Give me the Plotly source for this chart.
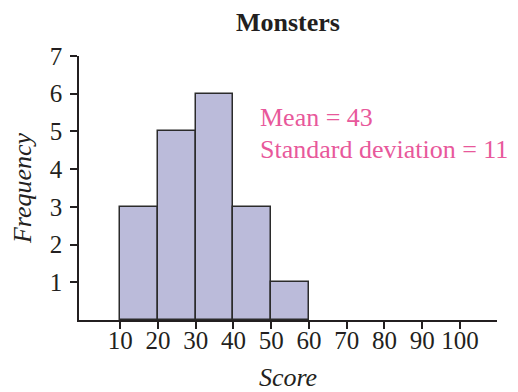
import plotly.graph_objects as go

# Histogram of monster scores
bin_left = [10, 20, 30, 40, 50]
bin_width = 10
frequency = [3, 5, 6, 3, 1]

x_ticks = [10, 20, 30, 40, 50, 60, 70, 80, 90, 100]
y_ticks = [1, 2, 3, 4, 5, 6, 7]

mean_score = 43
sd_score = 11

SERIF = "Liberation Serif, Times New Roman, serif"
PINK = "#E8589B"
INK = "#231F20"

centers = [b + bin_width / 2 for b in bin_left]

fig = go.Figure(
    go.Bar(
        x=centers,
        y=frequency,
        width=[bin_width] * len(frequency),
        marker=dict(color="#BBBBDA", line=dict(color="#2B2B2B", width=1.5)),
        hoverinfo="skip",
    )
)

axis_common = dict(
    showline=True,
    linecolor=INK,
    linewidth=1.5,
    ticks="outside",
    ticklen=7,
    tickwidth=1.5,
    tickcolor=INK,
    showgrid=False,
    zeroline=False,
    automargin=False,
    tickfont=dict(family=SERIF, size=25, color=INK),
)

fig.update_xaxes(
    range=[-0.9, 109.8],
    tickvals=x_ticks,
    ticktext=[str(v) for v in x_ticks],
    ticklabelstandoff=-10,
    title=dict(text="Score", font=dict(family=SERIF, size=26, color=INK, style="italic"), standoff=18),
    **axis_common,
)
fig.update_yaxes(
    range=[0, 7],
    tickvals=y_ticks,
    ticktext=[str(v) for v in y_ticks],
    ticklabelstandoff=3,
    title=dict(text="Frequency", font=dict(family=SERIF, size=26, color=INK, style="italic"), standoff=11),
    **axis_common,
)

fig.add_annotation(
    x=46.5, y=5.36, xref="x", yref="y",
    text=f"Mean = {mean_score}",
    showarrow=False, xanchor="left", yanchor="middle",
    font=dict(family=SERIF, size=26, color=PINK),
)
fig.add_annotation(
    x=46.5, y=4.53, xref="x", yref="y",
    text=f"Standard deviation = {sd_score}",
    showarrow=False, xanchor="left", yanchor="middle",
    font=dict(family=SERIF, size=26, color=PINK),
)

fig.update_layout(
    width=518,
    height=392,
    margin=dict(l=79, r=21, t=56, b=72),
    paper_bgcolor="white",
    plot_bgcolor="white",
    showlegend=False,
    bargap=0,
    title=dict(
        text="<b>Monsters</b>",
        x=0.5, xref="paper", xanchor="center",
        y=1 - 22 / 392, yref="container", yanchor="middle",
        font=dict(family=SERIF, size=26, color=INK),
    ),
)

fig.write_html("out.html")
